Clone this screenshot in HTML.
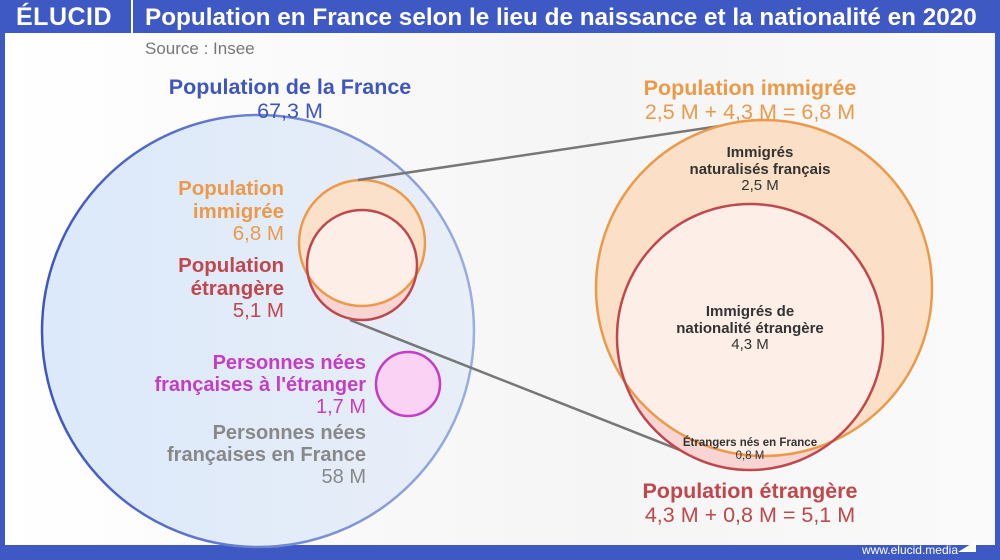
<!DOCTYPE html>
<html><head><meta charset="utf-8"><style>
html,body{margin:0;padding:0}
body{width:1000px;height:560px;position:relative;overflow:hidden;background:#3f59c4;font-family:"Liberation Sans",sans-serif}
#inner{position:absolute;left:5px;top:33px;width:990px;height:512px;background:linear-gradient(90deg,#fff 0%,#f5f5f5 60%,#fafafa 100%)}
.t{position:absolute;font-weight:bold;text-align:center;line-height:1.1}
</style></head><body>
<div id="inner"></div>
<div style="position:absolute;left:16px;top:3px;color:#fff;font-weight:bold;font-size:25px;letter-spacing:0.5px">ÉLUCID</div>
<div style="position:absolute;left:131px;top:0;width:2px;height:33px;background:#fff"></div>
<div style="position:absolute;left:145px;top:4px;color:#fff;font-weight:bold;font-size:24.3px;white-space:nowrap">Population en France selon le lieu de naissance et la nationalité en 2020</div>
<div style="position:absolute;left:145px;top:39px;color:#777;font-size:17px">Source : Insee</div>
<div style="position:absolute;right:42px;top:543px;color:#fff;font-size:12px">www.elucid.media</div>
<svg style="position:absolute;left:0;top:0" width="1000" height="560">
<defs>
<linearGradient id="bg" x1="0" x2="1"><stop offset="0" stop-color="#dbe9fa"/><stop offset="1" stop-color="#e9eef8"/></linearGradient>
<linearGradient id="bs" x1="0" x2="1"><stop offset="0" stop-color="#3f55c0"/><stop offset="1" stop-color="#9aaee0"/></linearGradient>
<clipPath id="c1"><circle cx="362" cy="243" r="63"/></clipPath>
<clipPath id="c2"><circle cx="764" cy="288" r="168"/></clipPath>
</defs>
<polygon points="958,552 976,541 976,552" fill="#fff"/>
<circle cx="258" cy="331" r="216" fill="url(#bg)" stroke="url(#bs)" stroke-width="2.5"/>
<circle cx="362" cy="265" r="55" fill="#f8d4d2"/>
<circle cx="362" cy="243" r="63" fill="#fbe1ca"/>
<circle cx="362" cy="265" r="55" fill="#fdeee8" clip-path="url(#c1)"/>
<circle cx="362" cy="243" r="63" fill="none" stroke="#ec9a4a" stroke-width="2.5"/>
<circle cx="362" cy="265" r="55" fill="none" stroke="#c0484c" stroke-width="2.5"/>
<circle cx="408" cy="384" r="32" fill="#f9d2f4" stroke="#c43dc4" stroke-width="2.5"/>
<line x1="358" y1="180" x2="760" y2="120" stroke="#777" stroke-width="2.5"/>
<line x1="350" y1="320" x2="700" y2="458" stroke="#777" stroke-width="2.5"/>
<circle cx="750" cy="337" r="133" fill="#f8d4d2"/>
<circle cx="764" cy="288" r="168" fill="#fbdfc6"/>
<circle cx="750" cy="337" r="133" fill="#fdeee8" clip-path="url(#c2)"/>
<circle cx="764" cy="288" r="168" fill="none" stroke="#ec9a4a" stroke-width="2.5"/>
<circle cx="750" cy="337" r="133" fill="none" stroke="#c0484c" stroke-width="2.5"/>
</svg>
<div class="t" style="left:140px;top:76px;width:300px;font-size:21.5px;color:#3f55c0">Population de la France<br><span style="font-weight:normal">67,3 M</span></div>
<div class="t" style="left:120px;top:178px;width:164px;text-align:right;font-size:20.5px;color:#ec9a4a">Population<br>immigrée<br><span style="font-weight:normal">6,8 M</span></div>
<div class="t" style="left:120px;top:255px;width:164px;text-align:right;font-size:20.5px;color:#c0484c">Population<br>étrangère<br><span style="font-weight:normal">5,1 M</span></div>
<div class="t" style="left:100px;top:352px;width:266px;text-align:right;font-size:20px;color:#c43dc4">Personnes nées<br>françaises à l'étranger<br><span style="font-weight:normal">1,7 M</span></div>
<div class="t" style="left:100px;top:422px;width:266px;text-align:right;font-size:20px;color:#888">Personnes nées<br>françaises en France<br><span style="font-weight:normal">58 M</span></div>
<div class="t" style="left:590px;top:77px;width:320px;font-size:21.5px;color:#ec9a4a">Population immigrée<br><span style="font-weight:normal">2,5 M + 4,3 M = 6,8 M</span></div>
<div class="t" style="left:660px;top:145px;width:200px;font-size:15px;color:#333">Immigrés<br>naturalisés français<br><span style="font-weight:normal">2,5 M</span></div>
<div class="t" style="left:640px;top:304px;width:220px;font-size:15px;color:#333">Immigrés de<br>nationalité étrangère<br><span style="font-weight:normal">4,3 M</span></div>
<div class="t" style="left:650px;top:437px;width:200px;font-size:11.5px;color:#333">Étrangers nés en France<br><span style="font-weight:normal">0,8 M</span></div>
<div class="t" style="left:590px;top:480px;width:320px;font-size:21.5px;color:#c0484c">Population étrangère<br><span style="font-weight:normal">4,3 M + 0,8 M = 5,1 M</span></div>
</body></html>
